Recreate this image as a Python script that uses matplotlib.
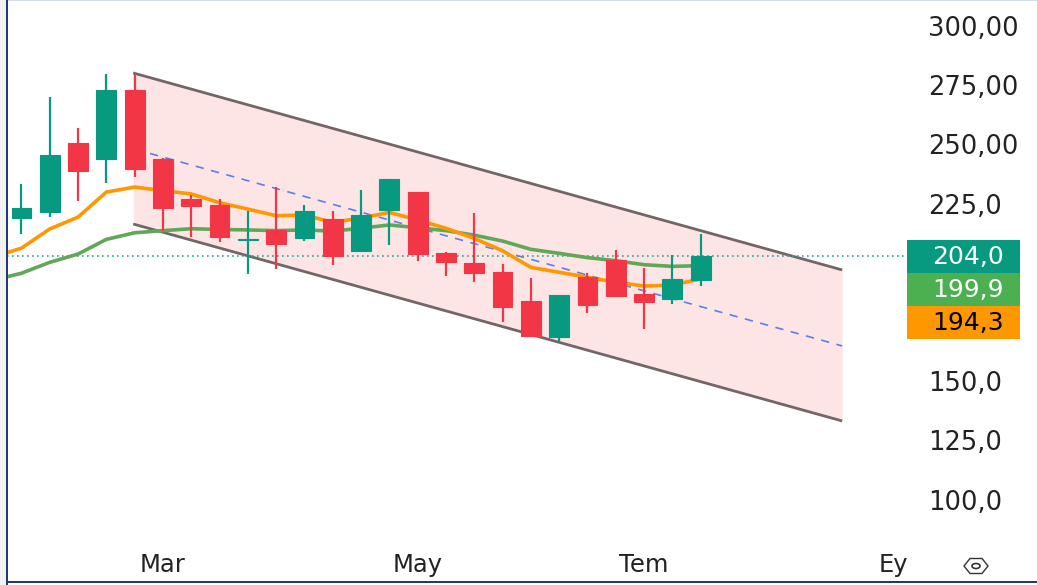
import matplotlib
matplotlib.use('Agg')
import matplotlib.pyplot as plt
from matplotlib.patches import Rectangle, Polygon, Ellipse

opens = [218.8, 221.6, 250.5, 243.7, 272.8, 243.7, 226.9, 224.5, 209.5, 213.9, 210.3, 218.6, 205.1,
         222.2, 229.8, 204.0, 200.0, 196.1, 183.9, 168.5, 194.1, 201.1, 186.8, 184.6, 192.9]
closes = [223.0, 245.4, 238.8, 272.8, 239.7, 223.1, 224.1, 210.9, 210.2, 208.0, 222.0, 203.0, 220.0,
          235.3, 203.7, 200.2, 195.7, 181.2, 169.0, 186.3, 182.2, 186.0, 183.6, 193.2, 202.9]
highs = [233.3, 269.9, 256.8, 279.7, 280.3, 244.1, 228.6, 226.8, 222.0, 231.9, 224.4, 222.0, 230.7,
         235.3, 229.8, 204.4, 220.9, 199.5, 193.7, 186.3, 195.6, 205.4, 197.7, 203.4, 212.2]
lows = [212.2, 219.2, 226.1, 233.8, 236.4, 213.6, 211.0, 208.9, 195.3, 197.3, 209.3, 199.2, 205.1,
        207.5, 200.8, 194.3, 191.9, 175.1, 169.0, 166.7, 178.7, 185.4, 171.9, 182.6, 190.3]

# the two averages start half a candle left of the first one
ma_x = [-0.51] + list(range(25))
ma_orange = [204.3, 206.2, 214.3, 219.3, 229.9, 232.0, 230.5, 229.1, 225.4, 222.7, 219.9, 220.2, 217.1,
             218.9, 221.3, 218.1, 214.6, 210.3, 205.1, 198.1, 196.0, 193.9, 191.8, 190.2, 190.6, 193.2]
ma_green = [194.1, 195.6, 200.2, 203.7, 209.9, 212.7, 213.6, 214.4, 214.1, 213.9, 213.6, 213.9, 213.4,
            214.6, 216.0, 214.8, 213.6, 211.7, 209.2, 205.7, 204.0, 202.2, 200.9, 199.2, 198.5, 198.8]

channel_x = [3.95, 29.0]
channel_top = [280.2, 197.0]
channel_bottom = [216.4, 133.2]
mid_x = [4.54, 29.0]
mid_y = [246.2, 164.9]
last_price = 202.7

y_ticks = [300, 275, 250, 225, 150, 125, 100]
y_labels = ['300,00', '275,00', '250,00', '225,0', '150,0', '125,0', '100,0']
x_ticks = [5.0, 14.0, 22.0, 30.8]
x_labels = ['Mar', 'May', 'Tem', 'Ey']
price_tags = ['204,0', '199,9', '194,3']

UP = '#089981'
DOWN = '#F23645'
NAVY = '#1F3A7A'
W, H = 1037, 585


def px(x0, y0, x1, y1):
    # box in picture pixels (y down) to figure fractions
    return x0 / W, 1 - y1 / H, (x1 - x0) / W, (y1 - y0) / H


plt.rcParams['font.family'] = ['DejaVu Sans']

fig = plt.figure(figsize=(W / 100, H / 100), dpi=100, facecolor='white')
ax = fig.add_axes(px(7, 1, 905, 581))
ax.set_xlim(-0.51, 31.22)
ax.set_ylim(65.6, 310.6)

ax.fill_between(channel_x, channel_bottom, channel_top, color=DOWN, alpha=0.13, lw=0, zorder=1)
ax.plot(channel_x, channel_top, color='#736666', lw=2, zorder=2, solid_capstyle='butt')
ax.plot(channel_x, channel_bottom, color='#736666', lw=2, zorder=2, solid_capstyle='butt')
ax.plot(mid_x, mid_y, color='#5B7FEF', lw=1.2, ls=(0, (5, 4.5)), zorder=2)
ax.axhline(last_price, color='#2AA792', lw=1.2, ls=(0, (1, 2)), zorder=2)

ax.plot(ma_x, ma_green, color='#5FA858', lw=2.6, zorder=3)
ax.plot(ma_x, ma_orange, color='#FF9800', lw=2.6, zorder=3)

for i in range(len(opens)):
    col = UP if closes[i] >= opens[i] else DOWN
    ax.vlines(i, lows[i], highs[i], color=col, lw=1.6, zorder=4)
    ax.bar(i, abs(closes[i] - opens[i]), bottom=min(opens[i], closes[i]), width=0.7, color=col,
           edgecolor=col, lw=0.8, zorder=5)

for s in ['top', 'right', 'left', 'bottom']:
    ax.spines[s].set_visible(False)
ax.patch.set_alpha(0)
ax.yaxis.tick_right()
ax.set_yticks(y_ticks)
ax.set_yticklabels(y_labels)
ax.set_xticks(x_ticks)
ax.set_xticklabels(x_labels)
ax.tick_params(axis='y', length=0, pad=16.5, labelsize=18.5, labelcolor='#222222')
ax.tick_params(axis='x', length=0, pad=-20.5, labelsize=17.5, labelcolor='#222222')

# price tags on the scale
tag_boxes = [(240, 273, UP, 'white'), (273, 306, '#4CAF50', 'white'), (306, 339, '#FF9800', 'black')]
for (y0, y1, bg, fg), tag in zip(tag_boxes, price_tags):
    fig.add_artist(Rectangle(px(907, y0, 1020, y1)[:2], 113 / W, (y1 - y0) / H, transform=fig.transFigure,
                             facecolor=bg, edgecolor='none'))
    fig.text(968 / W, 1 - ((y0 + y1) / 2 - 2) / H, tag, color=fg, fontsize=18, ha='center', va='center_baseline')

# eye icon next to the time scale
eye_x, eye_y = 976, H - 566
hexagon = [(-12, 0), (-6, 7.5), (6, 7.5), (12, 0), (6, -7.5), (-6, -7.5)]
fig.add_artist(Polygon([(eye_x + a, eye_y + b) for a, b in hexagon], closed=True, fill=False,
                       edgecolor='#333333', lw=1, transform=None))
fig.add_artist(Ellipse((eye_x, eye_y), 8, 5, fill=False, edgecolor='#333333', lw=1.2, transform=None))

# surrounding frame of the screenshot
fig.add_artist(Rectangle((0, 0), 6 / W, 1, transform=fig.transFigure, facecolor='#F2F2F2', edgecolor='none'))
fig.add_artist(Rectangle((6 / W, 0), 2 / W, 1, transform=fig.transFigure, facecolor=NAVY, edgecolor='none'))
fig.add_artist(Rectangle((6 / W, 1 - 583 / H), 1 - 6 / W, 2 / H, transform=fig.transFigure,
                         facecolor=NAVY, edgecolor='none'))
fig.add_artist(Rectangle((8 / W, 1 - 1 / H), 1 - 8 / W, 1 / H, transform=fig.transFigure,
                         facecolor='#D5DCEB', edgecolor='none'))

fig.savefig('out.png', dpi=100)
